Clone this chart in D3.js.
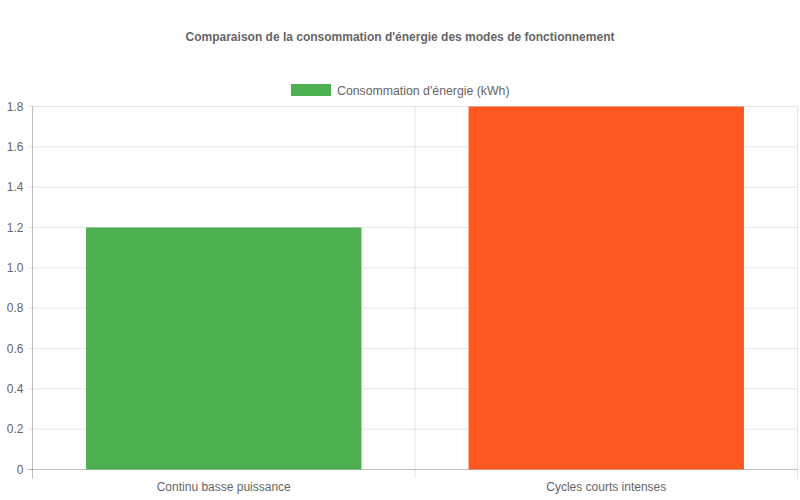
<!DOCTYPE html>
<html><head><meta charset="utf-8">
<script src="https://cdn.jsdelivr.net/npm/d3@7"></script>
<style>body{margin:0;background:#fff}svg{display:block;font-family:"Liberation Sans",Arial,sans-serif}</style>
</head><body><svg id="c" width="800" height="500"></svg>
<script>
const categories = ["Continu basse puissance", "Cycles courts intenses"];
const values = [1.2, 1.8];
const colors = ["#4CAF50", "#FF5722"];
const yTicks = [0, 0.2, 0.4, 0.6, 0.8, 1.0, 1.2, 1.4, 1.6, 1.8];
const title = "Comparaison de la consommation d'énergie des modes de fonctionnement";
const seriesName = "Consommation d'énergie (kWh)";

const svg = d3.select("#c");
const L = 32.5, R = 797.5, T = 106.5, B = 469.5;
const x = d3.scaleBand().domain(categories).range([L, R]).paddingInner(0).paddingOuter(0);
const y = d3.scaleLinear().domain([0, 1.8]).range([B, T]);
const fmt = t => t === 0 ? "0" : d3.format(".1f")(t);

svg.append("text").attr("x", 400).attr("y", 41).attr("text-anchor", "middle")
  .attr("font-size", 12).attr("font-weight", "bold").attr("fill", "#666").text(title);

// legend
svg.append("rect").attr("x", 291).attr("y", 84).attr("width", 40).attr("height", 12).attr("fill", colors[0]);
svg.append("text").attr("x", 337).attr("y", 94.5).attr("font-size", 12.3).attr("fill", "#666").text(seriesName);

const g = svg.append("g");
yTicks.forEach(t => {
  g.append("line").attr("x1", L - 5).attr("x2", R).attr("y1", y(t)).attr("y2", y(t))
    .attr("stroke", t === 0 ? "rgba(0,0,0,0.25)" : "rgba(0,0,0,0.1)").attr("stroke-width", 1);
  g.append("text").attr("x", L - 9).attr("y", y(t) + 4).attr("text-anchor", "end")
    .attr("font-size", 12).attr("fill", "#666").text(fmt(t));
});
const bounds = [L, L + x.bandwidth(), R];
bounds.forEach((b, i) => {
  g.append("line").attr("x1", b).attr("x2", b).attr("y1", T).attr("y2", B + 9)
    .attr("stroke", i === 0 ? "rgba(0,0,0,0.25)" : "rgba(0,0,0,0.1)");
});

const bw = x.bandwidth() * 0.72;
svg.append("g").selectAll("rect").data(categories).join("rect")
  .attr("x", d => x(d) + (x.bandwidth() - bw) / 2)
  .attr("width", bw)
  .attr("y", (d, i) => y(values[i]))
  .attr("height", (d, i) => y(0) - y(values[i]))
  .attr("fill", (d, i) => colors[i]);

svg.append("g").selectAll("text").data(categories).join("text")
  .attr("x", d => x(d) + x.bandwidth() / 2).attr("y", 491)
  .attr("text-anchor", "middle").attr("font-size", 12).attr("fill", "#666").text(d => d);
</script></body></html>
